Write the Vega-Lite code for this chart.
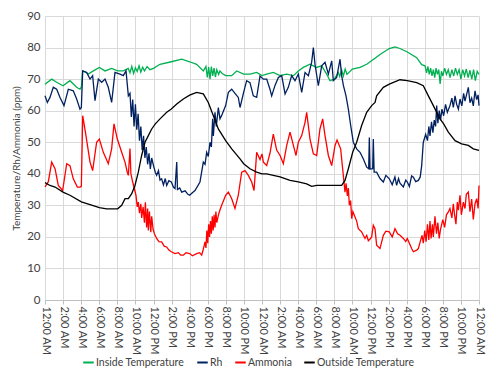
{
  "$schema": "https://vega.github.io/schema/vega-lite/v6.json",
  "width": 434,
  "height": 284,
  "autosize": {"type": "none"},
  "padding": {"left": 45, "top": 16, "right": 14, "bottom": 83},
  "background": "white",
  "config": {
    "font": "Lato",
    "view": {"stroke": null},
    "axis": {"labelColor": "#404040", "titleColor": "#404040", "gridColor": "#d9d9d9", "labelFont": "Lato", "titleFont": "Lato"}
  },
  "datasets": {
    "inside": [
      {"hour":0,"value":68.4},{"hour":0.74,"value":70},{"hour":1.29,"value":69},{"hour":1.99,"value":67.9},{"hour":2.76,"value":69.5},{"hour":3.5,"value":67.4},{"hour":3.87,"value":66.8},{"hour":4.02,"value":67.5},{"hour":4.17,"value":72.6},{"hour":4.5,"value":72.2},{"hour":4.79,"value":71.6},{"hour":5.35,"value":72.6},{"hour":6.01,"value":73.7},{"hour":6.64,"value":72.6},{"hour":7.37,"value":73.4},{"hour":8.04,"value":72.6},{"hour":8.66,"value":72.6},
      {"hour":9.2,"value":73.4},{"hour":9.4,"value":72.0},{"hour":9.6,"value":74.0},{"hour":9.8,"value":71.8},{"hour":10.0,"value":73.6},{"hour":10.2,"value":72.4},{"hour":10.4,"value":74.2},{"hour":10.6,"value":72.2},{"hour":10.8,"value":73.8},{"hour":11.0,"value":72.6},{"hour":11.3,"value":74.0},{"hour":11.6,"value":73.0},{"hour":12.0,"value":73.4},
      {"hour":12.72,"value":74.7},{"hour":13.97,"value":75.5},{"hour":15.12,"value":76.3},{"hour":16.0,"value":75.5},{"hour":16.77,"value":74.7},{"hour":17.51,"value":72.6},
      {"hour":17.8,"value":74.0},{"hour":17.95,"value":70.5},{"hour":18.1,"value":73.8},{"hour":18.25,"value":70.0},{"hour":18.4,"value":74.0},{"hour":18.55,"value":71.0},{"hour":18.7,"value":73.5},{"hour":18.85,"value":70.6},{"hour":19.0,"value":73.0},{"hour":19.2,"value":71.5},{"hour":19.35,"value":72.6},{"hour":19.6,"value":71.8},
      {"hour":19.98,"value":71.1},{"hour":20.65,"value":71.1},{"hour":21.2,"value":72.6},{"hour":21.97,"value":71.6},{"hour":22.67,"value":71.6},{"hour":23.41,"value":72.1},{"hour":24.0,"value":71.1},{"hour":24.52,"value":71.6},{"hour":25.25,"value":72.1},{"hour":26.0,"value":71.1},{"hour":26.73,"value":71.6},{"hour":27.47,"value":71.1},{"hour":28.02,"value":72.6},{"hour":28.57,"value":73.7},{"hour":29.31,"value":74.7},{"hour":30.01,"value":73.7},{"hour":30.6,"value":74.2},{"hour":31.15,"value":71.6},{"hour":31.52,"value":69.5},{"hour":32.0,"value":70},{"hour":32.44,"value":72.1},
      {"hour":32.6,"value":70.8},{"hour":32.8,"value":73.0},{"hour":33.0,"value":71.0},{"hour":33.2,"value":73.2},{"hour":33.4,"value":71.5},{"hour":33.99,"value":73.2},{"hour":34.84,"value":73.7},{"hour":35.58,"value":74.7},{"hour":36.5,"value":76.6},{"hour":37.05,"value":77.8},{"hour":38.08,"value":79.7},{"hour":38.71,"value":80.2},{"hour":39.26,"value":79.7},{"hour":40.07,"value":78.6},{"hour":41.11,"value":76.8},{"hour":41.66,"value":74.6},{"hour":42.03,"value":74.2},
      {"hour":42.2,"value":72.0},{"hour":42.35,"value":74.0},{"hour":42.5,"value":71.5},{"hour":42.65,"value":73.5},{"hour":42.8,"value":71.0},{"hour":42.95,"value":73.0},{"hour":43.1,"value":70.5},{"hour":43.25,"value":73.5},{"hour":43.4,"value":71.5},{"hour":43.55,"value":73.0},{"hour":43.7,"value":68.5},{"hour":43.85,"value":72.5},{"hour":44.0,"value":71.0},{"hour":44.2,"value":73.5},{"hour":44.4,"value":71.5},{"hour":44.6,"value":73.0},{"hour":44.8,"value":70.5},{"hour":45.0,"value":73.0},{"hour":45.2,"value":71.0},{"hour":45.4,"value":73.5},{"hour":45.6,"value":71.5},{"hour":45.8,"value":73.0},{"hour":46.0,"value":70.0},{"hour":46.2,"value":73.0},{"hour":46.4,"value":71.0},{"hour":46.6,"value":73.2},{"hour":46.8,"value":70.5},{"hour":47.0,"value":72.8},{"hour":47.2,"value":70.0},{"hour":47.4,"value":73.0},{"hour":47.6,"value":69.5},{"hour":47.8,"value":72.5},{"hour":48.0,"value":71.5}
    ],
    "rh": [
      {"hour":0,"value":64.7},{"hour":0.26,"value":62.6},{"hour":0.55,"value":64.2},{"hour":0.92,"value":67.4},{"hour":1.29,"value":66.8},{"hour":1.66,"value":64.2},{"hour":2.1,"value":61.6},{"hour":2.58,"value":66.8},{"hour":3.13,"value":66.3},{"hour":3.5,"value":63.7},{"hour":3.87,"value":60.5},{"hour":4.02,"value":61},{"hour":4.17,"value":72.6},{"hour":4.61,"value":72.1},{"hour":4.98,"value":70},{"hour":5.27,"value":71.1},{"hour":5.53,"value":63.2},{"hour":5.9,"value":70},{"hour":6.27,"value":69},{"hour":6.64,"value":70},{"hour":7.0,"value":67.4},{"hour":7.37,"value":62.6},{"hour":7.74,"value":72.1},{"hour":8.29,"value":71.6},{"hour":8.66,"value":71.1},{"hour":8.96,"value":72.6},{"hour":9.22,"value":64.7},
      {"hour":9.4,"value":65.5},{"hour":9.55,"value":58.0},{"hour":9.7,"value":63.5},{"hour":9.85,"value":55.0},{"hour":10.0,"value":62.0},{"hour":10.15,"value":54.0},{"hour":10.3,"value":59.0},{"hour":10.45,"value":50.5},{"hour":10.6,"value":55.0},{"hour":10.75,"value":47.5},{"hour":10.9,"value":52.0},{"hour":11.05,"value":45.0},{"hour":11.2,"value":48.5},{"hour":11.35,"value":43.0},{"hour":11.5,"value":46.5},{"hour":11.65,"value":41.5},{"hour":11.8,"value":45.0},{"hour":12.0,"value":42.6},
      {"hour":12.2,"value":40.5},{"hour":12.35,"value":39.5},{"hour":12.55,"value":41.0},{"hour":12.72,"value":38.0},{"hour":12.9,"value":38.4},{"hour":13.1,"value":36.5},{"hour":13.3,"value":38.5},{"hour":13.46,"value":36.3},{"hour":13.7,"value":37.8},{"hour":13.97,"value":37.4},{"hour":14.2,"value":35.8},{"hour":14.38,"value":35.3},{"hour":14.57,"value":43.7},{"hour":14.65,"value":35.0},{"hour":14.9,"value":35.5},{"hour":15.12,"value":34.2},{"hour":15.5,"value":34.6},{"hour":15.8,"value":33.5},{"hour":16.0,"value":33.2},{"hour":16.3,"value":34.0},{"hour":16.59,"value":34.7},{"hour":17.14,"value":37.4},{"hour":17.51,"value":43.7},{"hour":17.7,"value":43.0},{"hour":17.88,"value":46.8},{"hour":18.06,"value":45.5},{"hour":18.25,"value":50},{"hour":18.4,"value":48.5},{"hour":18.54,"value":57.4},{"hour":18.62,"value":52},{"hour":18.8,"value":59.5},{"hour":18.95,"value":55},{"hour":19.17,"value":61},{"hour":19.35,"value":57.4},{"hour":19.54,"value":58.5},{"hour":19.98,"value":61.6},{"hour":20.28,"value":65.8},{"hour":20.65,"value":66.8},{"hour":21.01,"value":65.5},{"hour":21.38,"value":64.2},{"hour":21.57,"value":61},{"hour":21.97,"value":65.8},{"hour":22.3,"value":69.5},{"hour":22.67,"value":68.9},{"hour":23.04,"value":64.7},{"hour":23.41,"value":64.2},{"hour":23.78,"value":71},
      {"hour":24.15,"value":70},{"hour":24.52,"value":70},{"hour":24.88,"value":66.8},{"hour":25.07,"value":64.7},{"hour":25.44,"value":68},{"hour":25.81,"value":70.5},{"hour":26.18,"value":71.1},{"hour":26.55,"value":65.3},{"hour":26.91,"value":67.4},{"hour":27.28,"value":71.1},{"hour":27.65,"value":69.5},{"hour":28.02,"value":71.6},{"hour":28.39,"value":65.8},{"hour":28.76,"value":72.1},{"hour":29.13,"value":71.1},{"hour":29.49,"value":75.3},{"hour":29.68,"value":80},{"hour":29.86,"value":74.7},{"hour":30.23,"value":67.9},{"hour":30.6,"value":74.2},{"hour":30.97,"value":75.3},{"hour":31.34,"value":71.6},{"hour":31.71,"value":75.8},{"hour":31.89,"value":69.5},{"hour":32.26,"value":70.5},{"hour":32.63,"value":76.3},{"hour":32.81,"value":71.1},{"hour":33.0,"value":68},{"hour":33.29,"value":64.7},{"hour":33.55,"value":60.5},{"hour":33.81,"value":55.3},{"hour":34.1,"value":50},{"hour":34.47,"value":47.9},{"hour":34.84,"value":46.8},{"hour":35.21,"value":44.7},{"hour":35.58,"value":42.1},{"hour":35.8,"value":41.6},{"hour":35.87,"value":51.5},{"hour":35.95,"value":41.5},{"hour":36.24,"value":41.6},{"hour":36.31,"value":51},{"hour":36.4,"value":40.5},{"hour":36.68,"value":40.5},{"hour":37.05,"value":38.5},{"hour":37.42,"value":37.4},{"hour":37.7,"value":39.5},{"hour":38.08,"value":38.4},{"hour":38.4,"value":36.5},{"hour":38.7,"value":39},{"hour":38.89,"value":36.3},{"hour":39.1,"value":38.5},{"hour":39.26,"value":37},{"hour":39.63,"value":35.8},{"hour":39.9,"value":38},{"hour":40.07,"value":37.4},{"hour":40.3,"value":36},{"hour":40.55,"value":39.3},{"hour":40.74,"value":38.9},{"hour":41.0,"value":37.5},{"hour":41.29,"value":37.9},{"hour":41.5,"value":39},{"hour":41.66,"value":42.6},{"hour":41.84,"value":50},{"hour":42.0,"value":51.5},{"hour":42.1,"value":52.5},
      {"hour":42.3,"value":50.5},{"hour":42.45,"value":55.0},{"hour":42.58,"value":52.0},{"hour":42.75,"value":56.5},{"hour":42.9,"value":53.0},{"hour":43.05,"value":57.0},{"hour":43.2,"value":55.0},{"hour":43.32,"value":61.6},{"hour":43.45,"value":56.0},{"hour":43.6,"value":60.0},{"hour":43.75,"value":57.0},{"hour":43.9,"value":60.5},{"hour":44.09,"value":58.4},{"hour":44.3,"value":62.0},{"hour":44.5,"value":59.5},{"hour":44.79,"value":61.6},{"hour":45.0,"value":64.0},{"hour":45.16,"value":61.0},{"hour":45.35,"value":64.7},{"hour":45.53,"value":62.0},{"hour":45.72,"value":60.5},{"hour":45.9,"value":63.7},{"hour":46.1,"value":61.5},{"hour":46.3,"value":65.5},{"hour":46.45,"value":63.0},{"hour":46.82,"value":67.4},{"hour":47.0,"value":62.5},{"hour":47.19,"value":64.0},{"hour":47.37,"value":61.5},{"hour":47.56,"value":66.3},{"hour":47.74,"value":63.5},{"hour":47.9,"value":65.0},{"hour":48.0,"value":61.6}
    ],
    "ammonia": [
      {"hour":0,"value":35.8},{"hour":0.37,"value":37.5},{"hour":0.74,"value":43.7},{"hour":1.11,"value":41.6},{"hour":1.47,"value":36.3},{"hour":1.95,"value":34.7},{"hour":2.4,"value":43.2},{"hour":2.76,"value":42.6},{"hour":3.13,"value":38.4},{"hour":3.58,"value":35.8},{"hour":3.87,"value":35.8},{"hour":4.02,"value":36},{"hour":4.17,"value":58.4},{"hour":4.53,"value":52.1},{"hour":4.98,"value":43.7},{"hour":5.27,"value":41},{"hour":5.71,"value":50},{"hour":6.01,"value":51},{"hour":6.45,"value":46.8},{"hour":7.0,"value":43.2},{"hour":7.37,"value":47.9},{"hour":7.63,"value":55.8},{"hour":8.0,"value":51},{"hour":8.48,"value":46.8},{"hour":8.85,"value":43.7},{"hour":9.1,"value":40.5},{"hour":9.22,"value":39.5},{"hour":9.4,"value":48},{"hour":9.5,"value":40},{"hour":9.7,"value":37.4},{"hour":10.06,"value":33.2},
      {"hour":10.2,"value":29.5},{"hour":10.32,"value":31.0},{"hour":10.45,"value":27.5},{"hour":10.6,"value":30.5},{"hour":10.69,"value":26.0},{"hour":10.85,"value":29.5},{"hour":11.0,"value":24.5},{"hour":11.1,"value":31.0},{"hour":11.24,"value":23.0},{"hour":11.35,"value":29.0},{"hour":11.43,"value":22.0},{"hour":11.55,"value":28.0},{"hour":11.7,"value":21.5},{"hour":11.8,"value":26.5},{"hour":11.95,"value":22.5},
      {"hour":12.1,"value":21.0},{"hour":12.35,"value":19.5},{"hour":12.6,"value":18.5},{"hour":12.9,"value":18.4},{"hour":13.2,"value":17.0},{"hour":13.46,"value":16.8},{"hour":13.7,"value":15.8},{"hour":13.97,"value":15.3},{"hour":14.38,"value":14.7},{"hour":14.75,"value":15.0},{"hour":15.0,"value":14.2},{"hour":15.3,"value":14.2},{"hour":15.6,"value":15.0},{"hour":16.0,"value":14.7},{"hour":16.3,"value":14.0},{"hour":16.77,"value":14.7},{"hour":17.1,"value":15.0},{"hour":17.33,"value":14.2},{"hour":17.5,"value":16.0},
      {"hour":17.7,"value":18.4},{"hour":17.8,"value":16.5},{"hour":17.9,"value":22.0},{"hour":18.0,"value":18.0},{"hour":18.1,"value":24.0},{"hour":18.2,"value":20.0},{"hour":18.3,"value":25.0},{"hour":18.4,"value":21.0},{"hour":18.5,"value":26.5},{"hour":18.6,"value":22.0},{"hour":18.7,"value":27.0},{"hour":18.8,"value":23.0},{"hour":18.9,"value":28.0},{"hour":19.0,"value":24.5},{"hour":19.17,"value":26.8},{"hour":19.35,"value":28.5},{"hour":19.54,"value":30.0},
      {"hour":19.98,"value":33.2},{"hour":20.28,"value":34.2},{"hour":20.65,"value":32.1},{"hour":21.01,"value":29},{"hour":21.38,"value":33.2},{"hour":21.75,"value":40.5},{"hour":22.12,"value":41},{"hour":22.49,"value":39.5},{"hour":22.86,"value":37.4},{"hour":23.12,"value":34.7},{"hour":23.41,"value":46.8},{"hour":23.78,"value":44.5},{"hour":24.0,"value":46.3},{"hour":24.15,"value":43.7},{"hour":24.52,"value":42.6},{"hour":24.88,"value":46.5},{"hour":25.25,"value":52.6},{"hour":25.62,"value":47.5},{"hour":26.0,"value":45.8},{"hour":26.36,"value":43.2},{"hour":26.73,"value":48.9},{"hour":27.1,"value":53.2},{"hour":27.47,"value":49},{"hour":27.76,"value":45.8},{"hour":28.02,"value":50},{"hour":28.39,"value":52.1},{"hour":28.76,"value":56.3},{"hour":28.94,"value":59.5},{"hour":29.31,"value":51},{"hour":29.68,"value":46.3},{"hour":30.05,"value":45.8},{"hour":30.41,"value":54.2},{"hour":30.71,"value":57.4},{"hour":30.97,"value":52.1},{"hour":31.34,"value":45.8},{"hour":31.71,"value":42.6},{"hour":32.07,"value":48.9},{"hour":32.3,"value":50.7},{"hour":32.7,"value":47.9},{"hour":32.92,"value":41.6},{"hour":33.18,"value":34.2},
      {"hour":33.3,"value":37.0},{"hour":33.44,"value":33.0},{"hour":33.55,"value":35.5},{"hour":33.66,"value":30},{"hour":33.8,"value":31.5},{"hour":33.92,"value":25.8},{"hour":34.05,"value":28},{"hour":34.29,"value":26.3},{"hour":34.47,"value":25.0},{"hour":34.65,"value":22.6},{"hour":35.02,"value":21.6},{"hour":35.39,"value":19.5},{"hour":35.58,"value":20.5},{"hour":35.76,"value":18.8},{"hour":36.0,"value":19.5},{"hour":36.13,"value":20},{"hour":36.31,"value":23.7},{"hour":36.5,"value":22.5},{"hour":36.68,"value":17.4},{"hour":37.05,"value":16.3},{"hour":37.42,"value":20.5},{"hour":37.7,"value":21.8},{"hour":38.08,"value":21.6},{"hour":38.4,"value":20},{"hour":38.71,"value":22.6},{"hour":39.0,"value":21.0},{"hour":39.26,"value":20.5},{"hour":39.63,"value":19.5},{"hour":39.9,"value":18.5},{"hour":40.07,"value":19.5},{"hour":40.55,"value":16.3},{"hour":40.74,"value":15.3},{"hour":41.11,"value":15.8},{"hour":41.29,"value":16.3},{"hour":41.5,"value":18.5},
      {"hour":41.7,"value":20.5},{"hour":41.84,"value":18.0},{"hour":42.0,"value":22.0},{"hour":42.15,"value":18.5},{"hour":42.3,"value":24.0},{"hour":42.45,"value":19.0},{"hour":42.58,"value":25.0},{"hour":42.7,"value":19.5},{"hour":42.85,"value":24.0},{"hour":42.95,"value":20.0},{"hour":43.13,"value":26.5},{"hour":43.3,"value":21.0},{"hour":43.45,"value":24.5},{"hour":43.6,"value":19.5},{"hour":43.75,"value":22.5},{"hour":44.0,"value":25.5},{"hour":44.2,"value":23.0},{"hour":44.4,"value":27.0},{"hour":44.61,"value":27.9},{"hour":44.79,"value":29.0},{"hour":45.0,"value":26.0},{"hour":45.16,"value":30.5},{"hour":45.3,"value":27.0},{"hour":45.45,"value":24.0},{"hour":45.6,"value":31.0},{"hour":45.72,"value":28.5},{"hour":45.9,"value":33.2},{"hour":46.05,"value":27.0},{"hour":46.27,"value":31.0},{"hour":46.45,"value":29},{"hour":46.6,"value":33.5},{"hour":46.82,"value":34.2},{"hour":47.0,"value":28.0},{"hour":47.19,"value":32.0},{"hour":47.37,"value":25.5},{"hour":47.56,"value":30.5},{"hour":47.74,"value":32.1},{"hour":47.9,"value":29.0},{"hour":48.0,"value":36.3}
    ],
    "outside": [
      {"hour":0,"value":37.2},{"hour":0.55,"value":36.3},{"hour":1.11,"value":35.8},{"hour":1.99,"value":34.2},{"hour":2.76,"value":33.2},{"hour":4.02,"value":31.1},{"hour":4.98,"value":30.2},{"hour":6.01,"value":29.3},{"hour":6.82,"value":28.9},{"hour":8.04,"value":28.9},{"hour":8.48,"value":30},{"hour":8.85,"value":32.1},{"hour":9.22,"value":32.1},{"hour":9.59,"value":33.7},{"hour":9.95,"value":36.3},{"hour":10.32,"value":40.5},{"hour":10.69,"value":45.8},{"hour":11.06,"value":50},{"hour":11.43,"value":52.1},{"hour":11.8,"value":54.2},{"hour":12.2,"value":55.8},{"hour":12.72,"value":57.4},{"hour":13.46,"value":59.5},{"hour":13.97,"value":60.5},{"hour":14.57,"value":62.1},{"hour":15.3,"value":63.7},{"hour":16.0,"value":64.9},{"hour":16.77,"value":65.8},{"hour":17.51,"value":65.3},{"hour":18.06,"value":62.6},{"hour":18.62,"value":58.4},{"hour":19.17,"value":54.2},{"hour":19.98,"value":50.5},{"hour":20.65,"value":47.9},{"hour":21.57,"value":44.7},{"hour":21.97,"value":43.2},{"hour":22.67,"value":41.6},{"hour":23.41,"value":40.5},{"hour":24.0,"value":40},{"hour":24.52,"value":40},{"hour":25.25,"value":39.5},{"hour":26.0,"value":39},{"hour":27.1,"value":37.9},{"hour":28.02,"value":37.4},{"hour":28.94,"value":36.8},{"hour":29.49,"value":36},{"hour":30.05,"value":36.3},{"hour":31.15,"value":36.3},{"hour":32.0,"value":36.3},{"hour":32.81,"value":36.3},{"hour":33.18,"value":37.9},{"hour":33.55,"value":41.6},{"hour":34.03,"value":46.8},{"hour":34.47,"value":50},{"hour":35.02,"value":55.3},{"hour":35.58,"value":59.5},{"hour":36.13,"value":61.6},{"hour":36.5,"value":62.6},{"hour":36.68,"value":64.7},{"hour":37.42,"value":67.4},{"hour":38.08,"value":68.4},{"hour":39.26,"value":69.8},{"hour":40.07,"value":69.5},{"hour":41.11,"value":68.9},{"hour":41.84,"value":67.9},{"hour":42.4,"value":64.7},{"hour":42.95,"value":61.6},{"hour":43.69,"value":57.4},{"hour":44.09,"value":55.8},{"hour":44.61,"value":53.2},{"hour":45.35,"value":50.5},{"hour":46.08,"value":49.5},{"hour":46.82,"value":49},{"hour":47.37,"value":47.9},{"hour":48.0,"value":47.4}
    ]
  },
  "encoding": {
    "x": {"field": "hour", "type": "quantitative",
      "scale": {"domain": [0, 48], "nice": false},
      "axis": {"values": [0,2,4,6,8,10,12,14,16,18,20,22,24,26,28,30,32,34,36,38,40,42,44,46,48],
        "labelExpr": "(datum.value % 12 == 0 ? 12 : datum.value % 12) + ':00 ' + (datum.value % 24 < 12 ? 'AM' : 'PM')",
        "labelAngle": 90, "labelAlign": "left", "labelBaseline": "middle", "labelFontSize": 11,
        "labelPadding": 2, "tickSize": 4, "tickColor": "#bfbfbf", "domainColor": "#bfbfbf",
        "grid": true, "title": null, "labelOverlap": false, "labelFlush": false}},
    "y": {"field": "value", "type": "quantitative",
      "scale": {"domain": [0, 90], "nice": false},
      "axis": {"values": [0,10,20,30,40,50,60,70,80,90], "grid": true, "ticks": false, "domain": false,
        "labelFontSize": 11.5, "labelPadding": 5, "labelOverlap": false, "labelFlush": false,
        "title": "Temperature/Rh/Ammonia (ppm)", "titleFontSize": 10, "titleFontWeight": "normal", "titlePadding": 5}},
    "color": {"field": "series", "type": "nominal",
      "scale": {"domain": ["Inside Temperature", "Rh", "Ammonia", "Outside Temperature"],
                "range": ["#00B050", "#002060", "#FF0000", "#000000"]},
      "legend": {"title": null, "orient": "none", "legendX": 37, "legendY": 340, "direction": "horizontal",
        "symbolType": "stroke", "symbolSize": 110, "symbolStrokeWidth": 2, "labelFontSize": 10.5,
        "labelColor": "#404040", "labelOffset": 1, "columnPadding": 8}}
  },
  "layer": [
    {
      "data": {"name": "inside"},
      "transform": [{"calculate": "'Inside Temperature'", "as": "series"}],
      "mark": {"type": "line", "strokeWidth": 1.3}
    },
    {
      "data": {"name": "rh"},
      "transform": [{"calculate": "'Rh'", "as": "series"}],
      "mark": {"type": "line", "strokeWidth": 1.3}
    },
    {
      "data": {"name": "ammonia"},
      "transform": [{"calculate": "'Ammonia'", "as": "series"}],
      "mark": {"type": "line", "strokeWidth": 1.3}
    },
    {
      "data": {"name": "outside"},
      "transform": [{"calculate": "'Outside Temperature'", "as": "series"}],
      "mark": {"type": "line", "strokeWidth": 1.3}
    }
  ]
}
